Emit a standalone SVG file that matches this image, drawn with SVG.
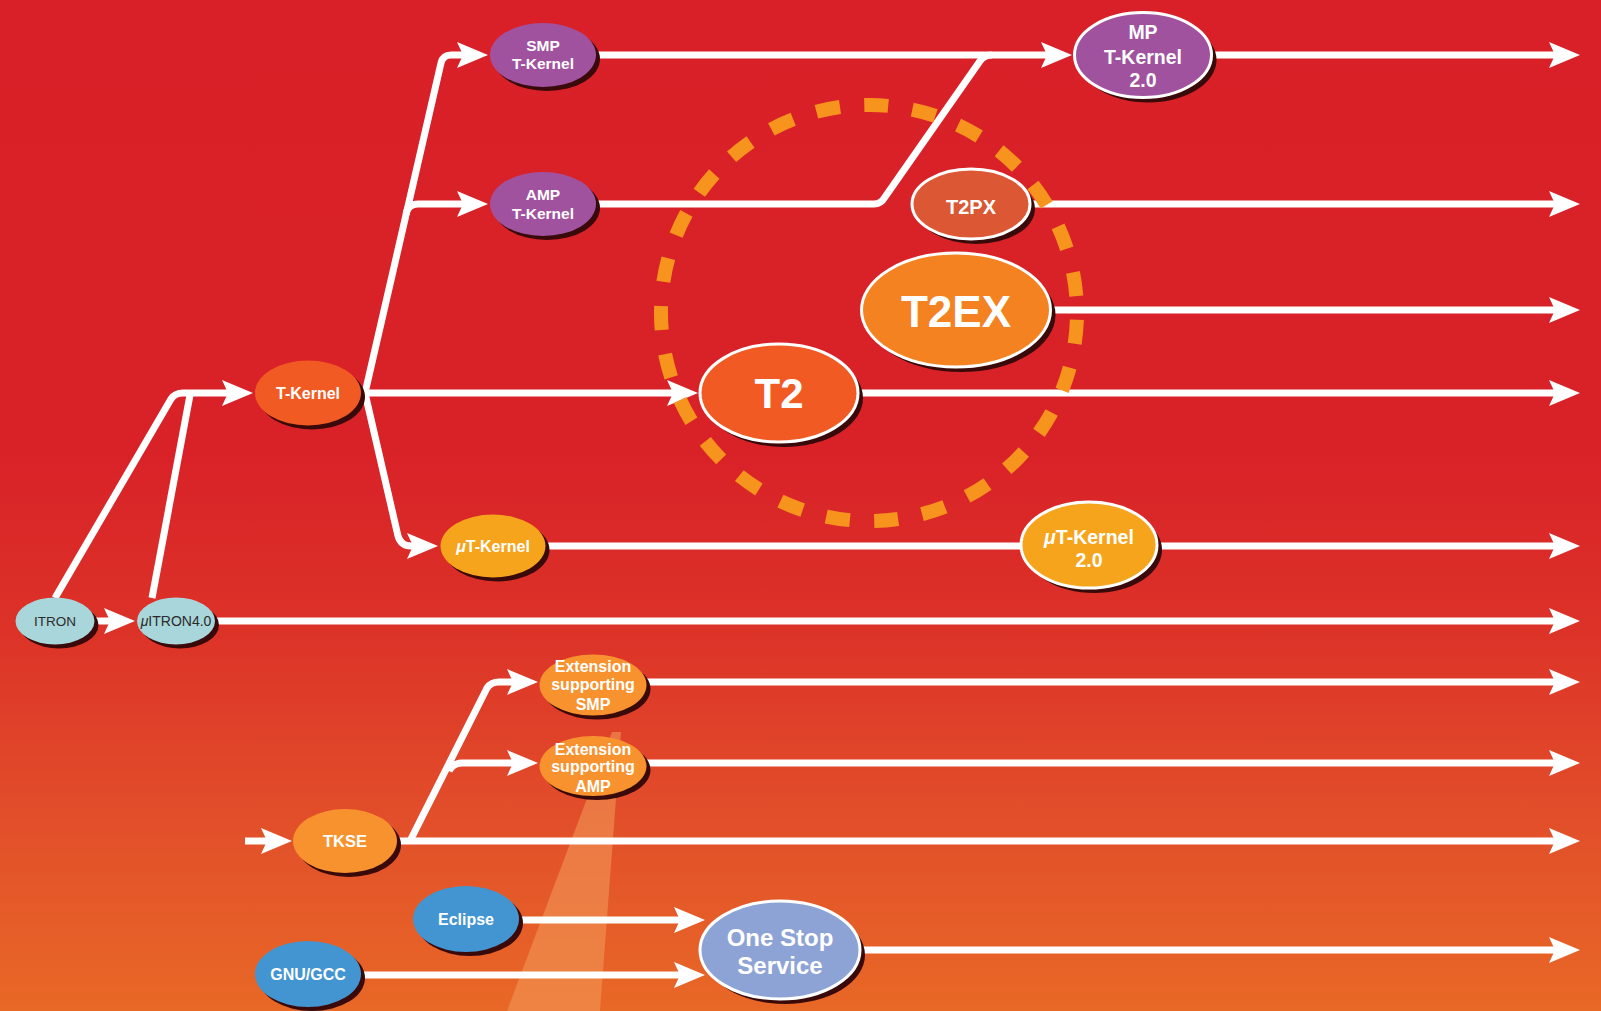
<svg xmlns="http://www.w3.org/2000/svg" width="1601" height="1011" viewBox="0 0 1601 1011">
<defs>
<linearGradient id="bg" x1="0" y1="0" x2="0" y2="1">
<stop offset="0" stop-color="#D92028"/>
<stop offset="0.45" stop-color="#D92228"/>
<stop offset="0.62" stop-color="#DC3228"/>
<stop offset="0.82" stop-color="#E2502A"/>
<stop offset="1" stop-color="#E86826"/>
</linearGradient>
<marker id="ah" markerUnits="userSpaceOnUse" markerWidth="40" markerHeight="30" viewBox="-12 -15 40 30" refX="0" refY="0" orient="auto" overflow="visible">
<path d="M20,0 L-11,-13 L-5,0 L-11,13 Z" fill="#fff"/>
</marker>
<style>
.ln{fill:none;stroke:#fff;stroke-width:7;stroke-linejoin:round}
.ar{marker-end:url(#ah)}
.sh{fill:#3a0a0a}
.ws{stroke:#fff;stroke-width:3}
.t{font-family:"Liberation Sans",Arial,sans-serif;font-weight:bold;fill:#fff;text-anchor:middle}
.d{font-family:"Liberation Sans",Arial,sans-serif;fill:#2b2b2b;text-anchor:middle}
.teal{fill:#A8D6DA}
.red{fill:#F15A22}
.pur{fill:#A1529F}
.px{fill:#DC5734}
.ex{fill:#F48220}
.yel{fill:#F7A41D}
.org{fill:#F7922F}
.blu{fill:#4295D1}
.oss{fill:#8EA3D5}
</style>
</defs>
<rect width="1601" height="1011" fill="url(#bg)"/>
<polygon points="612,732 621,732 600,1011 507,1011" fill="#F19657" opacity="0.6"/>
<g id="connectors">
<path class="ln ar" d="M55,598 L171,399 Q175,393 183,393 L233,393"/>
<path class="ln" d="M152,598 L190,395"/>
<path class="ln ar" d="M96,621 L115,621"/>
<path class="ln ar" d="M215,621 L1560,621"/>
<path class="ln ar" d="M362,393 L678,393"/>
<path class="ln ar" d="M858,393 L1560,393"/>
<path class="ln ar" d="M365,393 L441,63 Q443,55 451,55 L468,55"/>
<path class="ln ar" d="M406,214 Q408,204 418,204 L468,204"/>
<path class="ln ar" d="M597,55 L1052,55"/>
<path class="ln" d="M597,204 L874,204 Q881,204 885,197 L980,61 Q984,55 992,55"/>
<path class="ln ar" d="M1212,55 L1560,55"/>
<path class="ln ar" d="M1030,204 L1560,204"/>
<path class="ln ar" d="M1050,310 L1560,310"/>
<path class="ln ar" d="M365,393 L398,536 Q401,546 411,546 L418,546"/>
<path class="ln ar" d="M545,546 L1560,546"/>
<path class="ln ar" d="M245,841 L272,841"/>
<path class="ln ar" d="M397,841 L1560,841"/>
<path class="ln ar" d="M410,841 L487,688 Q491,682 499,682 L518,682"/>
<path class="ln ar" d="M449,771 Q453,763 462,763 L518,763"/>
<path class="ln ar" d="M645,682 L1560,682"/>
<path class="ln ar" d="M645,763 L1560,763"/>
<path class="ln ar" d="M519,920 L685,920"/>
<path class="ln ar" d="M361,975 L685,975"/>
<path class="ln ar" d="M860,950 L1560,950"/>
</g>
<circle cx="869" cy="313" r="208" fill="none" stroke="#F7941D" stroke-width="14" stroke-dasharray="24 24.405" stroke-dashoffset="41.5"/>
<g id="itron"><ellipse class="sh" cx="59" cy="625" rx="39.5" ry="23.5"/><ellipse class="teal" cx="55" cy="621" rx="39.5" ry="23.5"/><text class="d" x="55" y="626" font-size="13.5">ITRON</text></g>
<g id="uitron"><ellipse class="sh" cx="180" cy="625" rx="39" ry="23.5"/><ellipse class="teal" cx="176" cy="621" rx="39" ry="23.5"/><text class="d" x="176" y="626" font-size="14"><tspan font-style="italic">μ</tspan>ITRON4.0</text></g>
<g id="tkernel"><ellipse class="sh" cx="312" cy="397" rx="53" ry="32.5"/><ellipse class="red" cx="308" cy="393" rx="53" ry="32.5"/><text class="t" x="308" y="399" font-size="16">T-Kernel</text></g>
<g id="smp"><ellipse class="sh" cx="547" cy="59" rx="53" ry="32"/><ellipse class="pur" cx="543" cy="55" rx="53" ry="32"/><text class="t" x="543" y="51" font-size="15.5">SMP</text><text class="t" x="543" y="69" font-size="15.5">T-Kernel</text></g>
<g id="amp"><ellipse class="sh" cx="547" cy="208" rx="53" ry="32"/><ellipse class="pur" cx="543" cy="204" rx="53" ry="32"/><text class="t" x="543" y="200" font-size="15.5">AMP</text><text class="t" x="543" y="218.5" font-size="15.5">T-Kernel</text></g>
<g id="mp"><ellipse class="sh" cx="1148" cy="60" rx="68.5" ry="42.5"/><ellipse class="pur ws" cx="1143" cy="55" rx="68.5" ry="42.5"/><text class="t" x="1143" y="38.5" font-size="19.5">MP</text><text class="t" x="1143" y="63.5" font-size="19.5">T-Kernel</text><text class="t" x="1143" y="87" font-size="19.5">2.0</text></g>
<g id="t2px"><ellipse class="sh" cx="976" cy="209" rx="59" ry="35"/><ellipse class="px ws" cx="971" cy="204" rx="59" ry="35"/><text class="t" x="971" y="213.5" font-size="20">T2PX</text></g>
<g id="t2ex"><ellipse class="sh" cx="961" cy="315" rx="94.5" ry="57"/><ellipse class="ex ws" cx="956" cy="310" rx="94.5" ry="57"/><text class="t" x="956" y="327" font-size="44">T2EX</text></g>
<g id="t2"><ellipse class="sh" cx="784" cy="398" rx="79" ry="49"/><ellipse class="red ws" cx="779" cy="393" rx="79" ry="49"/><text class="t" x="779" y="408" font-size="42">T2</text></g>
<g id="utkernel"><ellipse class="sh" cx="497" cy="550" rx="52.5" ry="31.5"/><ellipse class="yel" cx="493" cy="546" rx="52.5" ry="31.5"/><text class="t" x="493" y="551.5" font-size="16"><tspan font-style="italic">μ</tspan>T-Kernel</text></g>
<g id="utkernel2"><ellipse class="sh" cx="1094" cy="550" rx="68" ry="43"/><ellipse class="yel ws" cx="1089" cy="545" rx="68" ry="43"/><text class="t" x="1089" y="544" font-size="19.5"><tspan font-style="italic">μ</tspan>T-Kernel</text><text class="t" x="1089" y="567" font-size="19.5">2.0</text></g>
<g id="tkse"><ellipse class="sh" cx="349" cy="845" rx="52" ry="32"/><ellipse class="org" cx="345" cy="841" rx="52" ry="32"/><text class="t" x="345" y="847" font-size="16.5">TKSE</text></g>
<g id="extsmp"><ellipse class="sh" cx="597" cy="689" rx="53.5" ry="30.5"/><ellipse class="org" cx="593" cy="685" rx="53.5" ry="30.5"/><text class="t" x="593" y="672" font-size="16">Extension</text><text class="t" x="593" y="690" font-size="16">supporting</text><text class="t" x="593" y="710" font-size="16">SMP</text></g>
<g id="extamp"><ellipse class="sh" cx="597" cy="770" rx="53.5" ry="30"/><ellipse class="org" cx="593" cy="766" rx="53.5" ry="30"/><text class="t" x="593" y="755" font-size="16">Extension</text><text class="t" x="593" y="772" font-size="16">supporting</text><text class="t" x="593" y="791.5" font-size="16">AMP</text></g>
<g id="eclipse"><ellipse class="sh" cx="470" cy="923" rx="53" ry="33"/><ellipse class="blu" cx="466" cy="919" rx="53" ry="33"/><text class="t" x="466" y="925" font-size="16">Eclipse</text></g>
<g id="gnugcc"><ellipse class="sh" cx="312" cy="978" rx="53" ry="33"/><ellipse class="blu" cx="308" cy="974" rx="53" ry="33"/><text class="t" x="308" y="980" font-size="16">GNU/GCC</text></g>
<g id="onestop"><ellipse class="sh" cx="785" cy="955" rx="80" ry="49"/><ellipse class="oss ws" cx="780" cy="950" rx="80" ry="49"/><text class="t" x="780" y="946" font-size="24">One Stop</text><text class="t" x="780" y="973.5" font-size="24">Service</text></g>
</svg>
